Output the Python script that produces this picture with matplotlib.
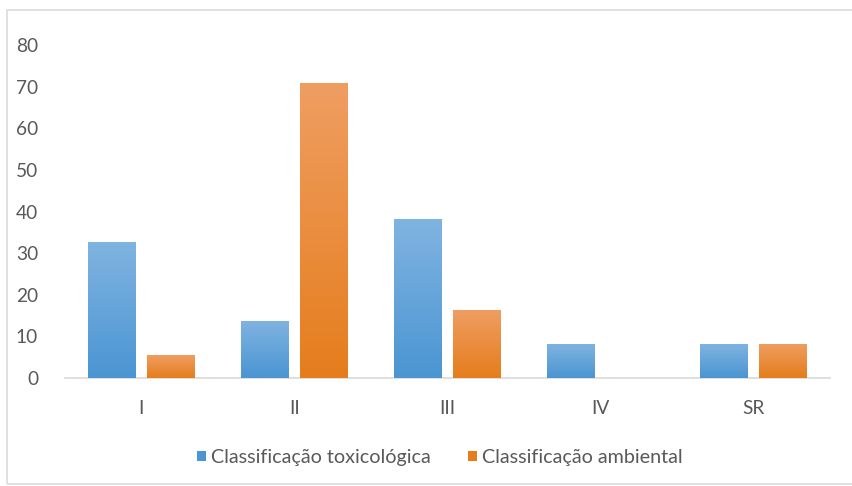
import matplotlib.pyplot as plt
import numpy as np
from matplotlib.colors import LinearSegmentedColormap
from matplotlib.patches import Rectangle

plt.rcParams['font.family'] = ['Lato', 'DejaVu Sans']

# Percentual de produtos por classe
classes = ['I', 'II', 'III', 'IV', 'SR']
toxicologica = [32.7, 13.7, 38.1, 8.2, 8.2]
ambiental = [5.5, 70.8, 16.4, 0.0, 8.2]
series_names = ['Classificação toxicológica', 'Classificação ambiental']

blue = ('#4a95d2', '#80b4e1')    # bottom, top
orange = ('#e57d1c', '#ef9e62')

fig = plt.figure(figsize=(8.52, 4.86), dpi=100)
ax = fig.add_axes([64.5 / 852, 108 / 486, 765.5 / 852, 333 / 486])

# moldura clara em volta do gráfico
fig.patches.append(Rectangle((7 / 852, 2 / 486), 1.0, 474 / 486,
                             transform=fig.transFigure, fill=False,
                             edgecolor='#dcdcdc', linewidth=1.2))

x = np.arange(len(classes))
width = 0.31
offset = 0.193


def gradient_bars(bars, colors):
    cmap = LinearSegmentedColormap.from_list('g', list(colors))
    grad = np.linspace(0, 1, 256).reshape(-1, 1)
    for bar in bars:
        h = bar.get_height()
        if h <= 0:
            continue
        x0 = bar.get_x()
        img = ax.imshow(grad, cmap=cmap, origin='lower', aspect='auto',
                        extent=(x0, x0 + bar.get_width(), 0, h), zorder=3)
        img.set_clip_path(bar)


b1 = ax.bar(x - offset, toxicologica, width, color=blue[0], label=series_names[0], zorder=2)
b2 = ax.bar(x + offset, ambiental, width, color=orange[0], label=series_names[1], zorder=2)
gradient_bars(b1, blue)
gradient_bars(b2, orange)

ax.set_xlim(-0.5, len(classes) - 0.5)
ax.set_ylim(0, 80)
ax.set_yticks(range(0, 81, 10))
ax.set_xticks(x)
ax.set_xticklabels(classes)

for side in ['top', 'right', 'left']:
    ax.spines[side].set_visible(False)
ax.spines['bottom'].set_color('#d9d9d9')
ax.spines['bottom'].set_linewidth(1.2)
ax.tick_params(axis='both', length=0, labelsize=13.8, colors='#595959')
ax.tick_params(axis='y', pad=19)
ax.tick_params(axis='x', pad=16)

leg = ax.legend(handles=[b1, b2], loc='upper center', bbox_to_anchor=(0.49, -0.16),
                ncol=2, frameon=False, fontsize=14.2, handlelength=0.45,
                handleheight=0.45, handletextpad=0.25, columnspacing=1.9)
for t in leg.get_texts():
    t.set_color('#595959')

fig.savefig('out.png', dpi=100, facecolor='white')
